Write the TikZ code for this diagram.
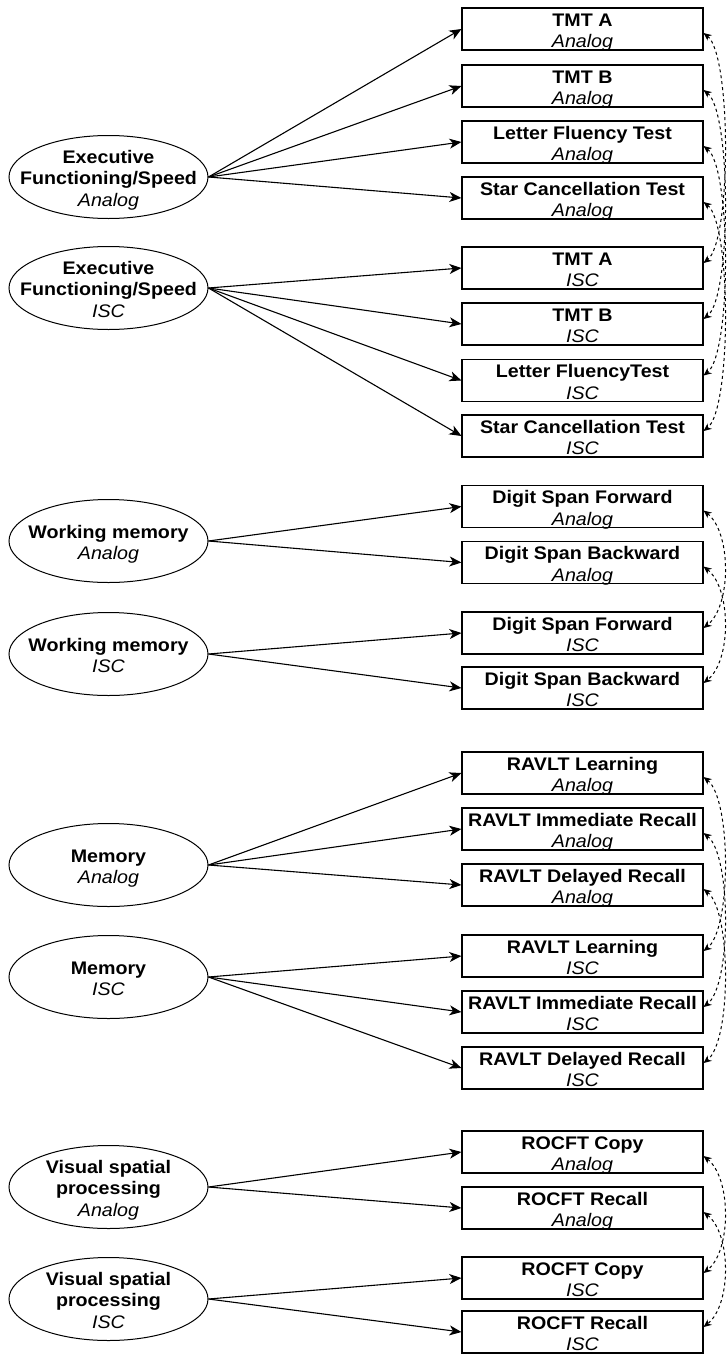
\documentclass[tikz,border=0pt]{standalone}
\usepackage{fontspec}
\setmainfont{Liberation Sans}[FakeStretch=1.08]
\usetikzlibrary{shapes.geometric,arrows.meta}

% box and ellipse texts
\newcommand{\testlabel}[2]{\raisebox{-18.5pt}[0pt][0pt]{\makebox[0pt]{\begin{tabular}[b]{@{}c@{}}\textbf{#1}\\\textit{#2}\end{tabular}}}}
\newcommand{\factorlabel}[2]{\raisebox{-8pt}[0pt][0pt]{\makebox[0pt]{\begin{tabular}{@{}c@{}}#1\\\textit{#2}\end{tabular}}}}
% dashed correlation between the two versions of a test
\newcommand{\corrlink}[2]{\draw[corr] ([yshift=-4pt]#1.east) .. controls +(28,22) and +(28,-22) .. ([yshift=5pt]#2.east);}

\begin{document}
\begin{tikzpicture}[x=1pt, y=-1pt,
    factor/.style={draw, ellipse, line width=1pt, minimum width=199pt, minimum height=83pt, inner sep=0pt, font=\fontsize{18.2}{21.5}\selectfont},
    testbox/.style={draw, rectangle, line width=1.1pt, minimum width=241pt, minimum height=42pt, inner sep=0pt, font=\fontsize{18.2}{21.5}\selectfont},
    load/.style={-{Stealth[length=12pt,width=10pt,inset=3.5pt]}, line width=1.1pt},
    corr/.style={{Stealth[length=8pt,width=7pt]}-{Stealth[length=8pt,width=7pt]}, dashed, line width=1pt}]
    \useasboundingbox (0,0) rectangle (727,1355);

    % Executive functioning/speed
    \node[factor] (efA) at (108.5,177) {\factorlabel{\textbf{Executive}\\\textbf{Functioning/Speed}}{Analog}};
    \node[factor] (efI) at (108.5,288) {\factorlabel{\textbf{Executive}\\\textbf{Functioning/Speed}}{ISC}};
    \node[testbox] (tmtaA) at (582.5,29) {\testlabel{TMT A}{Analog}};
    \node[testbox] (tmtbA) at (582.5,86) {\testlabel{TMT B}{Analog}};
    \node[testbox] (lftA) at (582.5,142) {\testlabel{Letter Fluency Test}{Analog}};
    \node[testbox] (sctA) at (582.5,198) {\testlabel{Star Cancellation Test}{Analog}};
    \node[testbox] (tmtaI) at (582.5,268) {\testlabel{TMT A}{ISC}};
    \node[testbox] (tmtbI) at (582.5,324) {\testlabel{TMT B}{ISC}};
    \node[testbox] (lftI) at (582.5,380.5) {\testlabel{Letter FluencyTest}{ISC}};
    \node[testbox] (sctI) at (582.5,436) {\testlabel{Star Cancellation Test}{ISC}};
    \draw[load] (efA.east) -- (tmtaA.west);
    \draw[load] (efA.east) -- (tmtbA.west);
    \draw[load] (efA.east) -- (lftA.west);
    \draw[load] (efA.east) -- (sctA.west);
    \draw[load] (efI.east) -- (tmtaI.west);
    \draw[load] (efI.east) -- (tmtbI.west);
    \draw[load] (efI.east) -- (lftI.west);
    \draw[load] (efI.east) -- (sctI.west);
    \corrlink{tmtaA}{tmtaI}
    \corrlink{tmtbA}{tmtbI}
    \corrlink{lftA}{lftI}
    \corrlink{sctA}{sctI}

    % Working memory
    \node[factor] (wmA) at (108.5,541) {\factorlabel{\textbf{Working memory}}{Analog}};
    \node[factor] (wmI) at (108.5,654) {\factorlabel{\textbf{Working memory}}{ISC}};
    \node[testbox] (dsfA) at (582.5,506.5) {\testlabel{Digit Span Forward}{Analog}};
    \node[testbox] (dsbA) at (582.5,562.5) {\testlabel{Digit Span Backward}{Analog}};
    \node[testbox] (dsfI) at (582.5,633) {\testlabel{Digit Span Forward}{ISC}};
    \node[testbox] (dsbI) at (582.5,688) {\testlabel{Digit Span Backward}{ISC}};
    \draw[load] (wmA.east) -- (dsfA.west);
    \draw[load] (wmA.east) -- (dsbA.west);
    \draw[load] (wmI.east) -- (dsfI.west);
    \draw[load] (wmI.east) -- (dsbI.west);
    \corrlink{dsfA}{dsfI}
    \corrlink{dsbA}{dsbI}

    % Memory
    \node[factor] (memA) at (108.5,865) {\factorlabel{\textbf{Memory}}{Analog}};
    \node[factor] (memI) at (108.5,977) {\factorlabel{\textbf{Memory}}{ISC}};
    \node[testbox] (rlA) at (582.5,773) {\testlabel{RAVLT Learning}{Analog}};
    \node[testbox] (riA) at (582.5,829) {\testlabel{RAVLT Immediate Recall}{Analog}};
    \node[testbox] (rdA) at (582.5,885) {\testlabel{RAVLT Delayed Recall}{Analog}};
    \node[testbox] (rlI) at (582.5,956) {\testlabel{RAVLT Learning}{ISC}};
    \node[testbox] (riI) at (582.5,1012) {\testlabel{RAVLT Immediate Recall}{ISC}};
    \node[testbox] (rdI) at (582.5,1068) {\testlabel{RAVLT Delayed Recall}{ISC}};
    \draw[load] (memA.east) -- (rlA.west);
    \draw[load] (memA.east) -- (riA.west);
    \draw[load] (memA.east) -- (rdA.west);
    \draw[load] (memI.east) -- (rlI.west);
    \draw[load] (memI.east) -- (riI.west);
    \draw[load] (memI.east) -- (rdI.west);
    \corrlink{rlA}{rlI}
    \corrlink{riA}{riI}
    \corrlink{rdA}{rdI}

    % Visual spatial processing
    \node[factor] (vspA) at (108.5,1187) {\factorlabel{\textbf{Visual spatial}\\\textbf{processing}}{Analog}};
    \node[factor] (vspI) at (108.5,1299) {\factorlabel{\textbf{Visual spatial}\\\textbf{processing}}{ISC}};
    \node[testbox] (rcA) at (582.5,1152) {\testlabel{ROCFT Copy}{Analog}};
    \node[testbox] (rrA) at (582.5,1208) {\testlabel{ROCFT Recall}{Analog}};
    \node[testbox] (rcI) at (582.5,1278) {\testlabel{ROCFT Copy}{ISC}};
    \node[testbox] (rrI) at (582.5,1332) {\testlabel{ROCFT Recall}{ISC}};
    \draw[load] (vspA.east) -- (rcA.west);
    \draw[load] (vspA.east) -- (rrA.west);
    \draw[load] (vspI.east) -- (rcI.west);
    \draw[load] (vspI.east) -- (rrI.west);
    \corrlink{rcA}{rcI}
    \corrlink{rrA}{rrI}
\end{tikzpicture}
\end{document}
